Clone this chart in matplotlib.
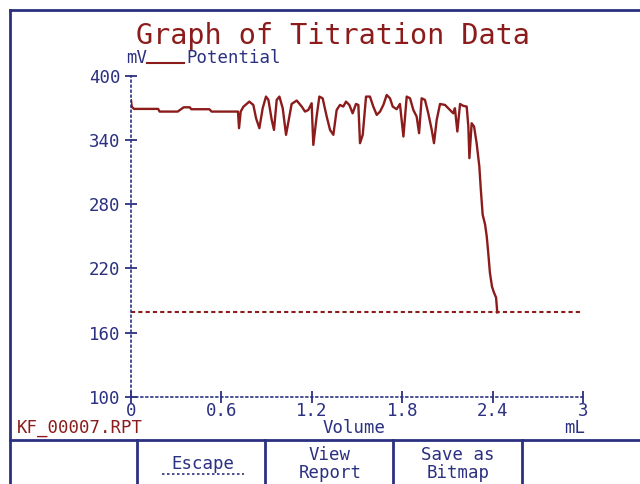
import matplotlib
matplotlib.use("Agg")
import matplotlib.pyplot as plt
from matplotlib.lines import Line2D

# Colores de la pantalla del titulador
ROJO = "#8c1c1c"
AZUL = "#2b3081"
FUENTE = "DejaVu Sans Mono"
TAM = 12.5

# Datos (mL, mV)
volumen = [0.000, 0.005, 0.020, 0.180, 0.190, 0.310, 0.325, 0.350, 0.390, 0.400,
           0.520, 0.535, 0.710, 0.717, 0.728, 0.746, 0.785, 0.812, 0.830, 0.852,
           0.874, 0.896, 0.912, 0.934, 0.949, 0.967, 0.985, 1.007, 1.029, 1.051,
           1.066, 1.100, 1.133, 1.155, 1.177, 1.199, 1.210, 1.232, 1.250, 1.272,
           1.299, 1.321, 1.343, 1.365, 1.387, 1.409, 1.427, 1.449, 1.471, 1.493,
           1.509, 1.520, 1.538, 1.560, 1.586, 1.608, 1.631, 1.653, 1.675, 1.697,
           1.719, 1.737, 1.763, 1.785, 1.808, 1.830, 1.852, 1.874, 1.896, 1.912,
           1.929, 1.951, 1.973, 1.996, 2.011, 2.029, 2.051, 2.084, 2.117, 2.139,
           2.150, 2.166, 2.184, 2.206, 2.228, 2.239, 2.246, 2.261, 2.277, 2.294,
           2.312, 2.321, 2.334, 2.350, 2.361, 2.371, 2.382, 2.396, 2.409, 2.423,
           2.431]
potencial = [377, 371, 369, 369, 366.5, 366.5, 368, 370.5, 370.5, 368.7,
             368.7, 366.5, 366.5, 351, 366.5, 371, 375.8, 372.7, 360.3, 351,
             369.6, 380.5, 377.4, 358.7, 349.4, 377.4, 380.5, 369.6, 344.8, 361.8,
             373.6, 376.8, 371.2, 366.5, 368, 374.3, 335.4, 361.8, 380.5, 378.9,
             361.8, 349.4, 344.8, 368, 372.7, 371.2, 375.8, 372.7, 364.9, 373.6,
             372.7, 337, 344.8, 380.5, 380.5, 371.2, 363.4, 366.5, 372.7, 382,
             378.9, 371.2, 368.7, 373.6, 343.2, 380.5, 378.9, 368, 361.8, 346.3,
             378.9, 377.4, 364.9, 349.4, 337, 358.7, 373.6, 372.7, 368, 364.9,
             369.6, 347.9, 373.6, 371.8, 371.2, 352.5, 323, 355.6, 352.5, 337,
             315.2, 295.4, 270.2, 261.1, 250, 234.8, 216.2, 203.1, 197.5, 192.9,
             179]
punto_final = 179

x_ticks = [0, 0.6, 1.2, 1.8, 2.4, 3]
x_labels = ["0", "0.6", "1.2", "1.8", "2.4", "3"]
y_ticks = [100, 160, 220, 280, 340, 400]

fig = plt.figure(figsize=(6.4, 4.84), dpi=100)
W, H = 640.0, 484.0

def fx(px):
    return px / W

def fy(py):
    return 1 - py / H

ax = fig.add_axes([fx(131), fy(397), (583 - 131) / W, (397 - 75.7) / H])
ax.plot(volumen, potencial, color=ROJO, lw=1.7)
ax.hlines(punto_final, 0, 3, color=ROJO, lw=1.5, linestyles=(0, (2, 1.5)))

ax.set_xlim(0, 3)
ax.set_ylim(100, 400)
ax.set_xticks(x_ticks)
ax.set_xticklabels(x_labels)
ax.set_yticks(y_ticks)
for s in ["top", "right"]:
    ax.spines[s].set_visible(False)
for s in ["left", "bottom"]:
    ax.spines[s].set_color(AZUL)
    ax.spines[s].set_linestyle((0, (1, 2)))
    ax.spines[s].set_linewidth(1.2)
ax.tick_params(direction="inout", length=9, width=1.3, color=AZUL,
               labelcolor=AZUL, labelsize=TAM)
ax.tick_params(axis="x", pad=-1)
ax.tick_params(axis="y", pad=3)
for lab in ax.get_xticklabels() + ax.get_yticklabels():
    lab.set_family(FUENTE)

# Titulo y leyenda
fig.text(fx(333), fy(36), "Graph of Titration Data", color=ROJO, family=FUENTE,
         fontsize=20.5, ha="center", va="center")
fig.text(fx(126), fy(58), "mV", color=AZUL, family=FUENTE, fontsize=TAM,
         ha="left", va="center")
fig.add_artist(Line2D([fx(147), fx(184)], [fy(63), fy(63)], color=ROJO, lw=1.5))
fig.text(fx(186), fy(58), "Potential", color=AZUL, family=FUENTE, fontsize=TAM,
         ha="left", va="center")

# Rotulos inferiores
fig.text(fx(17), fy(428), "KF_00007.RPT", color=ROJO, family=FUENTE, fontsize=TAM,
         ha="left", va="center")
fig.text(fx(354), fy(428), "Volume", color=AZUL, family=FUENTE, fontsize=TAM,
         ha="center", va="center")
fig.text(fx(575), fy(428), "mL", color=AZUL, family=FUENTE, fontsize=TAM,
         ha="center", va="center")

# Marco de la pantalla
marco = dict(color=AZUL, lw=2)
fig.add_artist(Line2D([fx(10), fx(10)], [fy(10), 0], **marco))
fig.add_artist(Line2D([fx(10), 1], [fy(10), fy(10)], **marco))
fig.add_artist(Line2D([fx(10), 1], [fy(440), fy(440)], **marco))
for px in [137, 265, 393, 522]:
    fig.add_artist(Line2D([fx(px), fx(px)], [fy(440), 0], **marco))

# Botones
fig.text(fx(203), fy(464), "Escape", color=AZUL, family=FUENTE, fontsize=TAM,
         ha="center", va="center")
fig.add_artist(Line2D([fx(162), fx(244)], [fy(474), fy(474)], color=AZUL, lw=1.2,
                      linestyle=(0, (1.5, 1.5))))
fig.text(fx(330), fy(464), "View\nReport", color=AZUL, family=FUENTE, fontsize=TAM,
         ha="center", va="center", linespacing=1.0)
fig.text(fx(458), fy(464), "Save as\nBitmap", color=AZUL, family=FUENTE, fontsize=TAM,
         ha="center", va="center", linespacing=1.0)

fig.savefig("out.png", dpi=100, facecolor="white")
